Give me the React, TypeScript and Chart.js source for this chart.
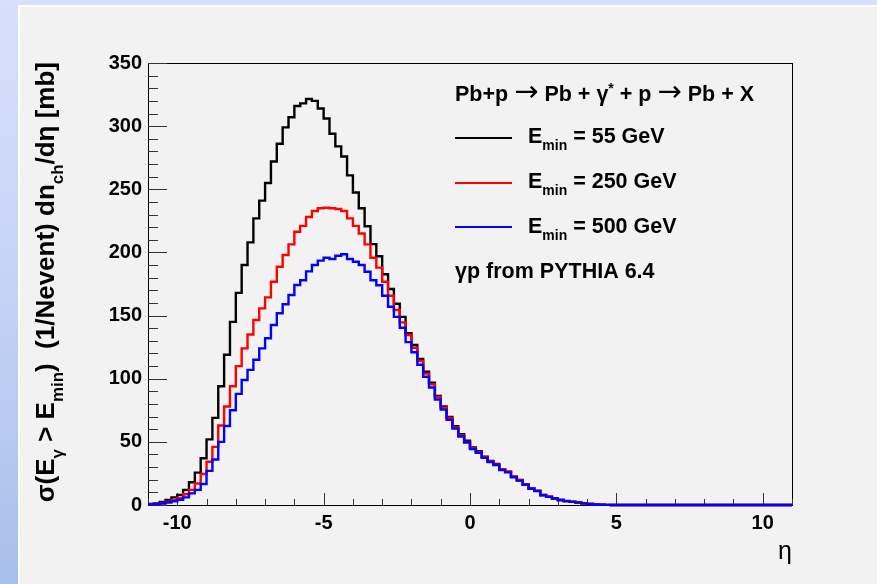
import React, { useEffect, useRef } from "react";
import { Chart, registerables } from "chart.js";

Chart.register(...registerables);

// Histogram binning: 110 bins of width 0.2 from eta = -11 to 11
const ETA_MIN = -11;
const ETA_MAX = 11;
const BIN_WIDTH = 0.2;

// E_min = 55 GeV (black)
const black55: number[] = [
  0.8, 1.3, 2.4, 4, 6, 8, 12, 18, 25.6, 37,
  52, 69, 94, 119, 145, 168, 190, 208, 227, 241,
  255, 272, 286, 299, 307, 316, 318, 321.5, 320, 314,
  306, 294, 284, 276, 261, 247.5, 235, 220.7, 206.6, 197,
  182.7, 171, 159.4, 149, 136, 126.7, 115.6, 105.5, 96.8, 86.3,
  78, 69.8, 62.4, 56, 51, 45.5, 42.6, 38.3, 34.8, 32.5,
  28.2, 26.4, 22.4, 19.8, 16.4, 13.2, 11.3, 7.9, 6.6, 5.3,
  4, 3.2, 2.6, 2.1, 1.3, 0.8, 0.4, 0.2, 0.1, 0,
  0, 0, 0, 0, 0, 0, 0, 0, 0, 0,
  0, 0, 0, 0, 0, 0, 0, 0, 0, 0,
  0, 0, 0, 0, 0, 0, 0, 0, 0, 0,
];

// E_min = 250 GeV (red)
const red250: number[] = [
  0.5, 0.9, 1.6, 2.6, 3.8, 5.5, 8.5, 12, 17, 24.5,
  34.3, 46, 63, 78, 94, 110, 124, 135, 146.5, 155.7,
  164.4, 176.8, 188.7, 198, 206.4, 216.4, 221, 228, 232.8, 235,
  235.4, 235, 234.4, 232.8, 227, 221, 215, 206.4, 195.8, 188,
  176.8, 165.7, 154.4, 144.6, 134.6, 124.5, 114, 104, 95.5, 85.5,
  77, 69, 61.5, 55, 50, 45, 42, 38, 34.5, 32,
  28, 26.4, 22.6, 19.6, 16.3, 13.1, 11.2, 7.9, 6.5, 5.2,
  4, 3.1, 2.5, 2, 1.3, 0.8, 0.4, 0.2, 0.1, 0,
  0, 0, 0, 0, 0, 0, 0, 0, 0, 0,
  0, 0, 0, 0, 0, 0, 0, 0, 0, 0,
  0, 0, 0, 0, 0, 0, 0, 0, 0, 0,
];

// E_min = 500 GeV (blue)
const blue500: number[] = [
  0.4, 0.7, 1.2, 2.0, 3.0, 4.2, 6, 9.2, 12, 16.6,
  27, 36, 50, 62.5, 75, 88, 99, 107, 115, 124,
  132, 142.5, 151.8, 159, 166.3, 174.2, 178, 185, 190, 193.5,
  195.8, 194.8, 197.4, 198.5, 194.8, 192.6, 190, 184.7, 178, 174,
  165.7, 157, 149, 140.4, 129, 121, 111, 101.5, 93, 83.5,
  75.5, 67.5, 60.5, 54.3, 49.5, 44.3, 41.4, 37.4, 34, 31.6,
  27.6, 25.8, 22, 19.3, 16, 12.9, 11, 7.7, 6.4, 5.1,
  3.9, 3.1, 2.5, 2, 1.3, 0.8, 0.4, 0.2, 0.1, 0,
  0, 0, 0, 0, 0, 0, 0, 0, 0, 0,
  0, 0, 0, 0, 0, 0, 0, 0, 0, 0,
  0, 0, 0, 0, 0, 0, 0, 0, 0, 0,
];

const xTickValues = [-10, -5, 0, 5, 10];
const yTickValues = [0, 50, 100, 150, 200, 250, 300, 350];
const legendLabels = ["55 GeV", "250 GeV", "500 GeV"];
const legendColors = ["#000000", "#ff0000", "#0000ff"];

const FAMILY = "'Liberation Sans', Arial, Helvetica, sans-serif";
const ARROW_FAMILY = "'DejaVu Sans', sans-serif";

type Seg = { t: string; s?: "sub" | "sup"; arrow?: boolean };

function segFont(size: number, weight: string, sg: Seg) {
  if (sg.arrow) return `normal ${size * 1.35}px ${ARROW_FAMILY}`;
  const sz = sg.s ? size * 0.65 : size;
  return `${weight} ${sz}px ${FAMILY}`;
}

function richWidth(ctx: CanvasRenderingContext2D, segs: Seg[], size: number, weight: string) {
  let w = 0;
  for (const sg of segs) {
    ctx.font = segFont(size, weight, sg);
    w += ctx.measureText(sg.t).width;
  }
  return w;
}

function drawRich(
  ctx: CanvasRenderingContext2D,
  segs: Seg[],
  x: number,
  y: number,
  size: number,
  weight: string,
  align: "left" | "right",
  color: string
) {
  const total = richWidth(ctx, segs, size, weight);
  let cx = align === "right" ? x - total : x;
  ctx.fillStyle = color;
  ctx.textAlign = "left";
  ctx.textBaseline = "alphabetic";
  for (const sg of segs) {
    ctx.font = segFont(size, weight, sg);
    const dy = sg.s === "sub" ? size * 0.33 : sg.s === "sup" ? -size * 0.38 : sg.arrow ? -size * 0.02 : 0;
    ctx.fillText(sg.t, cx, y + dy);
    cx += ctx.measureText(sg.t).width;
  }
}

function toSteps(vals: number[]) {
  const pts = vals.map((v, i) => ({ x: ETA_MIN + i * BIN_WIDTH, y: v }));
  pts.push({ x: ETA_MAX, y: vals[vals.length - 1] });
  return pts;
}

const decorPlugin = {
  id: "rootDecor",
  beforeDatasetsDraw(chart: any) {
    const { ctx, chartArea } = chart;
    const { left, right, top, bottom } = chartArea;
    const xs = chart.scales.x;
    const ys = chart.scales.y;
    ctx.save();
    ctx.strokeStyle = "#000";
    ctx.lineWidth = 1;
    ctx.strokeRect(Math.round(left) + 0.5, Math.round(top) + 0.5, Math.round(right - left), Math.round(bottom - top));
    ctx.strokeStyle = "#333";
    ctx.beginPath();
    for (let v = 0; v <= 350; v += 10) {
      const py = Math.round(ys.getPixelForValue(v)) + 0.5;
      const len = v % 50 === 0 ? 19 : 10;
      ctx.moveTo(left, py);
      ctx.lineTo(left + len, py);
    }
    for (let v = -11; v <= 11; v += 1) {
      const px = Math.round(xs.getPixelForValue(v)) + 0.5;
      const len = v % 5 === 0 ? 12 : 6;
      ctx.moveTo(px, bottom);
      ctx.lineTo(px, bottom - len);
    }
    ctx.stroke();
    ctx.restore();
  },
  afterDraw(chart: any) {
    const { ctx, chartArea } = chart;
    ctx.save();
    ctx.font = `normal 25px ${FAMILY}`;
    ctx.fillStyle = "#000";
    ctx.textAlign = "right";
    ctx.textBaseline = "alphabetic";
    ctx.fillText("η", chartArea.right, 559);

    ctx.save();
    ctx.translate(54, chartArea.top - 1);
    ctx.rotate(-Math.PI / 2);
    drawRich(
      ctx,
      [
        { t: "σ(E" },
        { t: "γ", s: "sub" },
        { t: " > E" },
        { t: "min", s: "sub" },
        { t: ")  (1/Nevent) dn" },
        { t: "ch", s: "sub" },
        { t: "/dη [mb]" },
      ],
      0,
      0,
      26,
      "bold",
      "right",
      "#000"
    );
    ctx.restore();

    const LX = 455;
    drawRich(
      ctx,
      [
        { t: "Pb+p " },
        { t: "→", arrow: true },
        { t: " Pb + γ" },
        { t: "*", s: "sup" },
        { t: " + p " },
        { t: "→", arrow: true },
        { t: " Pb + X" },
      ],
      LX,
      101,
      21.5,
      "bold",
      "left",
      "#000"
    );
    const rowLine = [138, 183, 227];
    const rowBase = [143, 188, 233];
    for (let i = 0; i < 3; i++) {
      ctx.strokeStyle = legendColors[i];
      ctx.lineWidth = 2;
      ctx.beginPath();
      ctx.moveTo(LX, rowLine[i]);
      ctx.lineTo(512, rowLine[i]);
      ctx.stroke();
      drawRich(
        ctx,
        [{ t: "E" }, { t: "min", s: "sub" }, { t: " = " + legendLabels[i] }],
        528,
        rowBase[i],
        21.5,
        "bold",
        "left",
        "#000"
      );
    }
    drawRich(ctx, [{ t: "γp from PYTHIA 6.4" }], LX, 278, 21.5, "bold", "left", "#000");
    ctx.restore();
  },
};

export default function App() {
  const ref = useRef<HTMLCanvasElement | null>(null);
  useEffect(() => {
    if (!ref.current) return;
    const mk = (label: string, vals: number[], color: string, order: number) => ({
      label,
      data: toSteps(vals),
      borderColor: color,
      backgroundColor: color,
      borderWidth: 2.4,
      pointRadius: 0,
      stepped: "before" as const,
      fill: false,
      clip: false as const,
      order,
    });
    const chart = new Chart(ref.current, {
      type: "line",
      data: {
        datasets: [
          mk("E_min = 55 GeV", black55, legendColors[0], 2),
          mk("E_min = 250 GeV", red250, legendColors[1], 1),
          mk("E_min = 500 GeV", blue500, legendColors[2], 0),
        ],
      },
      options: {
        animation: false,
        responsive: false,
        maintainAspectRatio: false,
        layout: { padding: { left: 0, right: 85, top: 63, bottom: 0 } },
        plugins: { legend: { display: false }, tooltip: { enabled: false } },
        scales: {
          x: {
            type: "linear",
            min: ETA_MIN,
            max: ETA_MAX,
            grid: { display: false, drawTicks: false },
            border: { display: false },
            afterBuildTicks: (s: any) => {
              s.ticks = xTickValues.map((v) => ({ value: v }));
            },
            afterFit: (s: any) => {
              s.height = 79;
            },
            ticks: {
              autoSkip: false,
              maxRotation: 0,
              padding: 6,
              color: "#000",
              font: { family: FAMILY, size: 20, weight: "bold" },
              callback: (v: any) => String(v),
            },
          },
          y: {
            type: "linear",
            min: 0,
            max: 350,
            grid: { display: false, drawTicks: false },
            border: { display: false },
            afterBuildTicks: (s: any) => {
              s.ticks = yTickValues.map((v) => ({ value: v }));
            },
            afterFit: (s: any) => {
              s.width = 148;
            },
            ticks: {
              autoSkip: false,
              padding: 6,
              color: "#000",
              font: { family: FAMILY, size: 20, weight: "bold" },
              callback: (v: any) => String(v),
            },
          },
        },
      },
      plugins: [decorPlugin],
    });
    return () => chart.destroy();
  }, []);

  return (
    <div
      style={{
        position: "absolute",
        left: 0,
        top: 0,
        width: 877,
        height: 584,
        overflow: "hidden",
        background: "linear-gradient(180deg, #d6e0fc 0%, #c4d3f6 50%, #a8bfe9 100%)",
      }}
    >
      <div
        style={{
          position: "absolute",
          left: 18,
          top: 5,
          right: 0,
          bottom: 0,
          background: "#f2f2f2",
          borderLeft: "2px solid #ffffff",
          borderTop: "2px solid #ffffff",
        }}
      />
      <canvas
        ref={ref}
        width={877}
        height={584}
        style={{ position: "absolute", left: 0, top: 0, display: "block" }}
      />
    </div>
  );
}
